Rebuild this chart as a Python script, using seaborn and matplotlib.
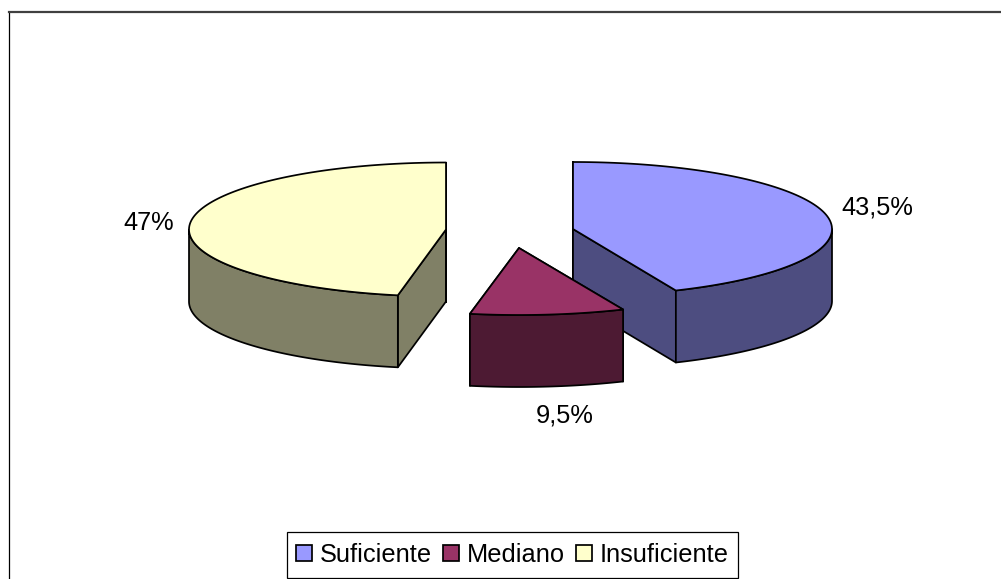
import numpy as np
import matplotlib
matplotlib.use("Agg")
import matplotlib.pyplot as plt
from matplotlib.patches import Polygon, Patch, Rectangle
import seaborn as sns

categorias = ['Suficiente', 'Mediano', 'Insuficiente']
valores = [43.5, 9.5, 47]
etiquetas = ['43,5%', '9,5%', '47%']
cores = ['#9999FF', '#993366', '#FFFFCC']

# layout, in picture pixels
LARGURA, ALTURA = 1001, 579
RY, FUNDO = 67, 72
raios = [259, 262, 257]
centros = [(573, 229), (519, 248), (446, 229.5)]
pos_etiquetas = [(841, 208, 'left'), (565, 415, 'center'), (174, 223, 'right')]

sns.set_theme(style='white')
plt.rcParams['font.family'] = ['Liberation Sans', 'DejaVu Sans']

fig = plt.figure(figsize=(LARGURA / 100, ALTURA / 100), dpi=100)
ax = fig.add_axes([9 / LARGURA, 0, 1 - 9 / LARGURA, 1 - 12 / ALTURA])
ax.set_xlim(9, LARGURA)
ax.set_ylim(ALTURA, 12)
ax.set_xticks([])
ax.set_yticks([])
sns.despine(ax=ax, top=False, left=False, right=True, bottom=True)
ax.spines['top'].set(color='#404040', linewidth=1.6, visible=True)
ax.spines['left'].set(color='black', linewidth=0.9, visible=True)

paleta = sns.color_palette(cores)
limites = np.cumsum([0] + valores) / sum(valores) * 360


def arco(cx, cy, rx, a1, a2):
    # angles run clockwise from 12 o'clock, as in the spreadsheet pie
    t = np.radians(np.linspace(a1, a2, 120))
    return np.column_stack([cx + rx * np.sin(t), cy - RY * np.cos(t)])


def fatia(cx, cy, rx, a1, a2, cor):
    escura = tuple(c * 0.5 for c in cor)
    estilo = dict(edgecolor='black', linewidth=1.25, joinstyle='round')
    desce = np.array([0, FUNDO])
    # flat cut faces
    for a in (a1, a2):
        borda = arco(cx, cy, rx, a, a)[0]
        apice = np.array([cx, cy])
        ax.add_patch(Polygon([apice, borda, borda + desce, apice + desce], facecolor=escura, **estilo))
    # outer wall, front half only
    ini, fim = max(a1, 90), min(a2, 270)
    if fim > ini:
        cima = arco(cx, cy, rx, ini, fim)
        ax.add_patch(Polygon(np.vstack([cima, (cima + desce)[::-1]]), facecolor=escura, **estilo))
    # top
    ax.add_patch(Polygon(np.vstack([[cx, cy], arco(cx, cy, rx, a1, a2)]), facecolor=cor, **estilo))


for i in [2, 0, 1]:
    cx, cy = centros[i]
    fatia(cx, cy, raios[i], limites[i], limites[i + 1], paleta[i])

for txt, (x, y, ha) in zip(etiquetas, pos_etiquetas):
    ax.text(x, y, txt, fontsize=18.3, color='black', ha=ha, va='center')

# legend box drawn apart so its size can differ from the text padding
ax.add_patch(Rectangle((287, 532), 451, 46, facecolor='white', edgecolor='black', linewidth=0.9))
alcas = [Patch(facecolor=c, edgecolor='black', linewidth=1.25) for c in paleta]
leg = ax.legend(alcas, categorias, ncol=3, loc='center', bbox_to_anchor=(512.5, 555),
                bbox_transform=ax.transData, fontsize=18.3, frameon=False, labelcolor='black',
                handlelength=0.62, handleheight=0.62, handletextpad=0.32, columnspacing=0.44,
                borderpad=0, borderaxespad=0)

fig.savefig('out.png', dpi=100, facecolor='white')
